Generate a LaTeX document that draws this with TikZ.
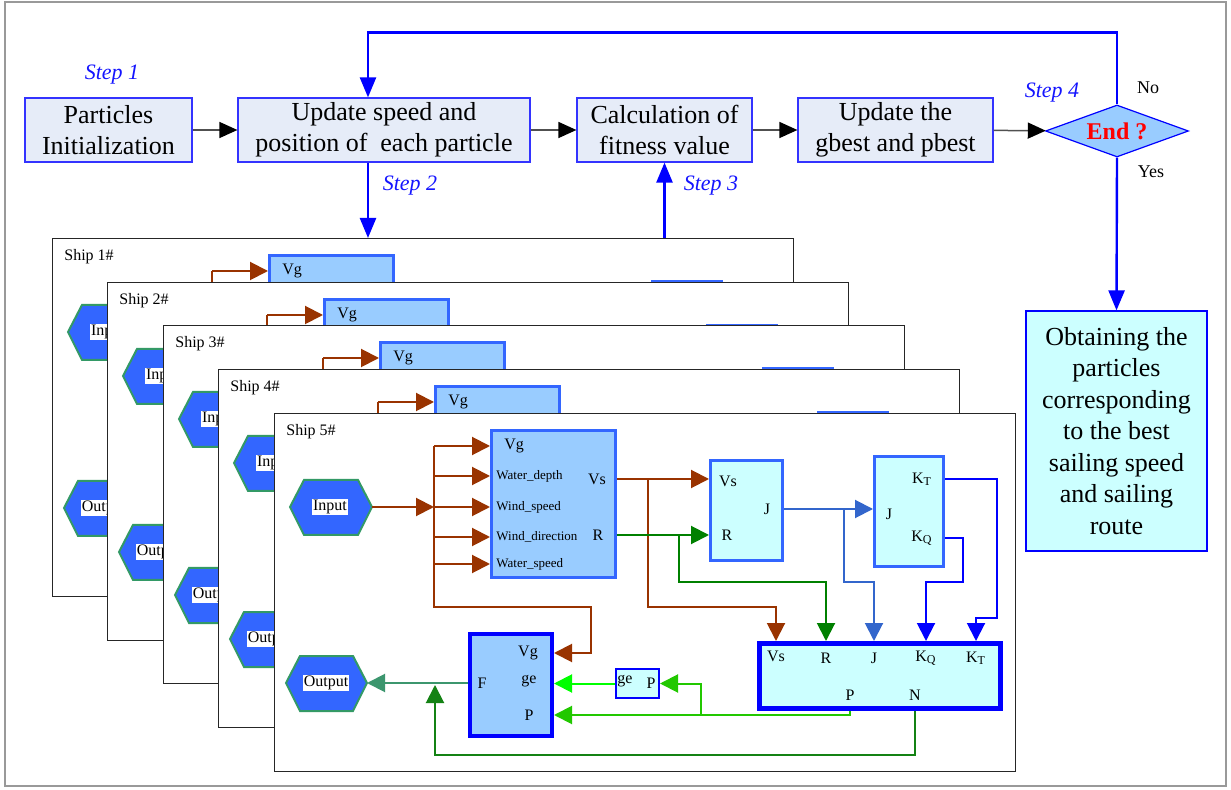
\documentclass[tikz,border=0pt]{standalone}
\usepackage{fontspec}
\setmainfont{Liberation Serif}
\usetikzlibrary{arrows.meta,shapes.geometric}
\definecolor{brn}{RGB}{153,51,0}
\definecolor{dgrn}{RGB}{0,128,0}
\definecolor{jblue}{RGB}{51,102,204}
\definecolor{pblue}{RGB}{0,0,255}
\definecolor{pgrn}{RGB}{34,200,0}
\definecolor{gegrn}{RGB}{0,255,0}
\definecolor{ngrn}{RGB}{20,130,20}
\definecolor{teal2}{RGB}{60,150,110}
\definecolor{hexfill}{RGB}{51,102,255}
\definecolor{hexline}{RGB}{51,153,102}
\definecolor{lblue}{RGB}{153,204,255}
\definecolor{midblue}{RGB}{51,102,255}
\definecolor{lcyan}{RGB}{204,255,255}
\definecolor{boxfill}{RGB}{230,236,248}
\definecolor{boxline}{RGB}{51,51,255}
\definecolor{steptxt}{RGB}{20,20,255}
\definecolor{flowgray}{RGB}{80,80,80}
% common (visible) part of every ship panel
\newcommand\shipBasePart[1]{%
  \node[shipframe] (frame) at (0,0) {};
  \node[shiplbl] (lbl) at (12,19) {Ship #1\#};
  \path[hexa] (16,94) -- (30,67) -- (84,67) -- (98,94) -- (84,122) -- (30,122) -- cycle;
  \coordinate (inR) at (98,94);
  \node[hexlbl] (inp) at (56,94) {Input};
  \path[hexa] (12,270) -- (26,243) -- (79,243) -- (93,270) -- (79,298) -- (26,298) -- cycle;
  \coordinate (outR) at (93,270);
  \node[hexlbl] (outp) at (52,270) {Output};
  \node[blkA, minimum width=62pt, minimum height=73.5pt] (A) at (216,16) {};
  \node[blkC, minimum width=34.5pt, minimum height=55pt] (D) at (599,42) {};
  \node[portlbl, anchor=west] (aVg) at (230,33) {Vg};
  \coordinate (j) at (160,94);
  \draw[wirearr, brn] (j |- aVg) -- (A.west |- aVg);
  \draw[brn, line width=1pt] (j |- aVg) -- ++(0,20);
}
\tikzset{
 topbox/.style={draw=boxline, fill=boxfill, line width=0.6pt, minimum height=32pt, align=center, inner sep=0pt, font=\fontsize{13}{15.6}\selectfont},
 steplbl/.style={text=steptxt, font=\fontsize{11}{13}\selectfont\itshape},
 yn/.style={font=\fontsize{9}{11}\selectfont},
 flowarr/.style={draw=flowgray, line width=0.75pt, -{Triangle[length=9pt,width=8pt,color=black]}},
 bluearr/.style={draw=pblue, line width=1.2pt, -{Triangle[length=10pt,width=8pt]}},
 shipframe/.style={draw=black!85, fill=white, line width=0.6pt, minimum width=370.5pt, minimum height=179pt, inner sep=0pt, anchor=north west},
 shiplbl/.style={font=\fontsize{8}{9.6}\selectfont, anchor=west, inner sep=0pt},
 hexa/.style={fill=hexfill, draw=hexline, line width=1pt},
 hexlbl/.style={fill=white, inner sep=0.6pt, font=\fontsize{8}{9.6}\selectfont},
 blkA/.style={draw=midblue, fill=lblue, line width=1.5pt, inner sep=0pt, anchor=north west},
 blkB/.style={draw=pblue, fill=lblue, line width=2pt, inner sep=0pt, anchor=north west},
 blkC/.style={draw=midblue, fill=lcyan, line width=1.5pt, inner sep=0pt, anchor=north west},
 blkE/.style={draw=pblue, fill=lcyan, line width=2.5pt, inner sep=0pt, anchor=north west},
 blkG/.style={draw=pblue, fill=lcyan, line width=1pt, inner sep=0pt, anchor=north west},
 portlbl/.style={font=\fontsize{8}{9.6}\selectfont, inner sep=0pt},
 sportlbl/.style={font=\fontsize{6.5}{8}\selectfont, inner sep=0pt, anchor=west},
 wirearr/.style={line width=1pt, -{Triangle[length=9pt,width=9pt]}},
 shipback/.pic={\shipBasePart{#1}},
 shipfull/.pic={
  \shipBasePart{#1}
  \node[blkB, minimum width=41pt, minimum height=51pt] (B) at (194,219) {};
  \node[blkC, minimum width=36pt, minimum height=50pt] (C) at (435,46) {};
  \node[blkE, minimum width=120.5pt, minimum height=32.5pt] (E) at (483,228) {};
  \node[blkG, minimum width=21.5pt, minimum height=14.5pt] (G) at (341,255) {};
  \node[sportlbl] (aWd) at (222,63) {Water\_depth};
  \node[sportlbl] (aWs) at (222,94) {Wind\_speed};
  \node[sportlbl] (aWdir) at (222,124) {Wind\_direction};
  \node[sportlbl] (aWsp) at (222,151) {Water\_speed};
  \node[portlbl] (aVs) at (323,66) {Vs};
  \node[portlbl] (aR) at (324,122) {R};
  \node[portlbl] (bVg) at (254,240) {Vg};
  \node[portlbl] (bF) at (208,270) {F};
  \node[portlbl] (bge) at (255,268) {ge};
  \node[portlbl] (bP) at (255,302) {P};
  \node[portlbl] (cVs) at (454,68) {Vs};
  \node[portlbl] (cR) at (453,122) {R};
  \node[portlbl] (cJ) at (493,96) {J};
  \node[portlbl] (dKT) at (648,66) {K\textsubscript{T}};
  \node[portlbl] (dJ) at (615,101) {J};
  \node[portlbl] (dKQ) at (648,125) {K\textsubscript{Q}};
  \node[portlbl] (eVs) at (502,243) {Vs};
  \node[portlbl] (eR) at (552,245) {R};
  \node[portlbl] (eJ) at (600,245) {J};
  \node[portlbl] (eKQ) at (652,245) {K\textsubscript{Q}};
  \node[portlbl] (eKT) at (702,245) {K\textsubscript{T}};
  \node[portlbl] (eP) at (576,282) {P};
  \node[portlbl] (eN) at (641,282) {N};
  \node[portlbl] (gge) at (351,268) {ge};
  \node[portlbl] (gP) at (377,270) {P};
  \coordinate (jb) at (160,194);
  \coordinate (bb) at (317,194);
  \coordinate (vsj) at (374,66);
  \coordinate (rj) at (405,122);
  \coordinate (jj) at (570,96);
  \coordinate (bus2) at (0,169);
  \coordinate (kt1) at (723,205);
  \coordinate (kq1) at (689,169);
  \coordinate (pj) at (427,302);
  \coordinate (oj) at (161,272);
  \draw[wirearr, brn] (inR) -- (j);
  \foreach \p in {aWd,aWs,aWdir,aWsp} \draw[wirearr, brn] (j |- \p) -- (A.west |- \p);
  \draw[wirearr, brn] (j |- aVg) -- (jb) -- (bb) |- (B.east |- bVg);
  \draw[wirearr, brn] (A.east |- aVs) -- (C.west |- aVs);
  \draw[wirearr, brn] (vsj) -- (vsj |- jb) -| (E.north -| eVs);
  \draw[wirearr, dgrn] (A.east |- aR) -- (C.west |- aR);
  \draw[wirearr, dgrn] (rj) -- (rj |- bus2) -| (E.north -| eR);
  \draw[wirearr, jblue] (C.east |- cJ) -- (D.west |- cJ);
  \draw[wirearr, jblue] (jj) -- (jj |- bus2) -| (E.north -| eJ);
  \draw[wirearr, pblue] (D.east |- dKT) -| (kt1) -| (E.north -| eKT);
  \draw[wirearr, pblue] (D.east |- dKQ) -| (kq1) -| (E.north -| eKQ);
  \draw[wirearr, pgrn] (E.south -| eP) |- (B.east |- bP);
  \draw[wirearr, pgrn] (pj) |- (G.east);
  \draw[wirearr, gegrn] (G.west) -- (B.east |- G.west);
  \draw[wirearr, ngrn] (E.south -| eN) -- ++(0,44) -| (oj);
  \draw[wirearr, teal2] (B.west |- bF) -- (outR);
 }
}
\begin{document}
\begin{tikzpicture}[x=0.5pt,y=-0.5pt]
\useasboundingbox (0,0) rectangle (1231,790);
\draw[draw=gray!80, line width=1pt] (5,2) rectangle (1226,786);
\pic (s1-) at (52,238) {shipback=1};
\pic (s2-) at (107,282) {shipback=2};
\pic (s3-) at (163,325) {shipback=3};
\pic (s4-) at (218,369) {shipback=4};
\pic (s5-) at (274,413) {shipfull=5};
\node[topbox, minimum width=83.5pt] (b1) at (108.5,130) {Particles\\Initialization};
\node[topbox, minimum width=146pt] (b2) at (384,130) {Update speed and\\position of\ \ each particle};
\node[topbox, minimum width=87.5pt] (b3) at (664.5,130) {Calculation of\\fitness value};
\node[topbox, minimum width=97.5pt] (b4) at (895.5,130) {Update the\\gbest and pbest};
\node[diamond, draw=pblue, fill=lblue, line width=0.6pt, aspect=2.75, minimum width=71.5pt, minimum height=26pt, inner sep=0pt, text=red, font=\bfseries\fontsize{12}{14}\selectfont] (endq) at (1117,131) {End ?};
\node[draw=pblue, fill=lcyan, line width=0.6pt, minimum width=90.5pt, minimum height=120pt, align=center, inner sep=0pt, font=\fontsize{13}{15.75}\selectfont] (res) at (1116.5,431) {Obtaining the\\particles\\corresponding\\to the best\\sailing speed\\and sailing\\route};
\node[steplbl] (st1) at (112,75) {Step 1};
\node[steplbl] (st2) at (410,186) {Step 2};
\node[steplbl] (st3) at (711,186) {Step 3};
\node[steplbl] (st4) at (1052,93) {Step 4};
\node[yn] (no) at (1148,88) {No};
\node[yn] (yes) at (1151,172) {Yes};
\draw[flowarr] (b1) -- (b2);
\draw[flowarr] (b2) -- (b3);
\draw[flowarr] (b3) -- (b4);
\draw[flowarr] (b4) -- (endq);
\coordinate (x2) at (368,0);
\draw[bluearr] (b2.south -| x2) -- (s1-frame.north -| x2);
\draw[bluearr] (s1-frame.north -| b3.south) -- (b3.south);
\draw[bluearr] (endq.north) -- ++(0,-72) -| (b2.north -| x2);
\draw[bluearr] (endq.south) -- (res.north);
\end{tikzpicture}
\end{document}
